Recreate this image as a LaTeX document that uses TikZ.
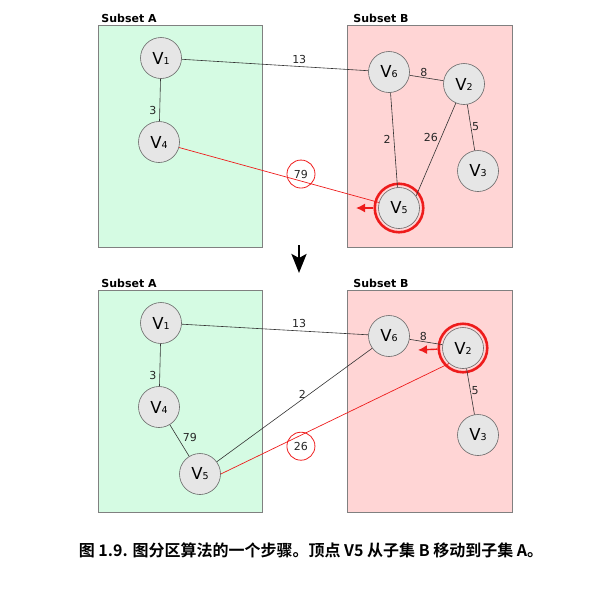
\documentclass[tikz,border=0pt]{standalone}
\usepackage{fontspec}
\setmainfont{DejaVu Sans}
\newfontfamily\cjk{Noto Sans CJK SC Bold}
\usetikzlibrary{arrows.meta}
\definecolor{greenA}{HTML}{D5FBE3}
\definecolor{pinkB}{HTML}{FFD5D5}
\definecolor{vgray}{HTML}{E6E6E6}
\definecolor{edgegray}{HTML}{666666}
\definecolor{boxgray}{HTML}{808080}
\definecolor{hot}{HTML}{EE1C1C}
\newcommand{\vname}[1]{V{\fontsize{9.5}{10}\selectfont #1}}

\begin{document}
\begin{tikzpicture}[x=1pt, y=-1pt, thick,
        main/.style = {draw=edgegray, fill=vgray, circle, minimum size=41pt, inner sep=0pt, line width=0.6pt, font=\fontsize{16.5}{16.5}\selectfont},
        ring/.style = {draw=hot, circle, minimum size=48.5pt, line width=2.6pt},
        lbl/.style = {inner sep=1pt, font=\fontsize{11}{11}\selectfont, text=black!85},
        cost/.style = {draw=hot, circle, minimum size=28pt, inner sep=0pt, line width=0.8pt, font=\fontsize{11}{11}\selectfont, text=black!85},
        link/.style = {draw=black!80, line width=0.6pt},
        cut/.style = {draw=hot, line width=0.7pt},
        move/.style = {draw=hot, line width=1.4pt, -{Latex[length=9pt, width=9pt]}},
        panelA/.style = {fill=greenA, draw=boxgray, line width=0.7pt},
        panelB/.style = {fill=pinkB, draw=boxgray, line width=0.7pt},
        title/.style = {anchor=base west, inner sep=0pt, font=\bfseries\fontsize{11}{11}\selectfont}]
            \useasboundingbox (0,0) rectangle (612,600);
            \draw[panelA] (98,25) rectangle (262,247);
            \draw[panelB] (347,25) rectangle (512,247);
            \draw[panelA] (98,290) rectangle (262,512);
            \draw[panelB] (347,290) rectangle (512,512);
            \node[title] (ta) at (101,22) {Subset A};
            \node[title] (tb) at (353,22) {Subset B};
            \node[title] (ba) at (101,287) {Subset A};
            \node[title] (bb) at (353,287) {Subset B};

            \node[main] (a1) at (161,58) {\vname{1}};
            \node[main] (a4) at (159,142) {\vname{4}};
            \node[main] (a6) at (389,72) {\vname{6}};
            \node[main] (a2) at (464,84) {\vname{2}};
            \node[main] (a3) at (478,171) {\vname{3}};
            \node[main] (a5) at (399,208) {\vname{5}};
            \node[ring] (r5) at (a5) {};
            \coordinate (m5) at (356,208);
            \draw[link] (a1) to node[lbl, pos=0.63, above=2pt] {13} (a6);
            \draw[link] (a1) to node[lbl, pos=0.74, left=2pt] {3} (a4);
            \draw[link] (a6) to node[lbl, pos=0.42, above] {8} (a2);
            \draw[link] (a6) to node[lbl, pos=0.49, left=2pt] {2} (a5);
            \draw[link] (a2) to node[lbl, pos=0.37, left=2pt] {26} (a5.35);
            \draw[link] (a2) to node[lbl, pos=0.49, right=0pt] {5} (a3);
            \draw[cut] (a4) to node[cost, pos=0.61, yshift=7pt] {79} (a5);
            \draw[move] (r5) -- (m5);

            \coordinate (d1) at (299,245);
            \coordinate (d2) at (299,273);
            \draw[line width=2.6pt, -{Stealth[length=19pt, width=15pt, inset=4pt]}] (d1) -- (d2);

            \node[main] (b1) at (161,323) {\vname{1}};
            \node[main] (b4) at (159,407) {\vname{4}};
            \node[main] (b5) at (200,474) {\vname{5}};
            \node[main] (b6) at (389,336) {\vname{6}};
            \node[main] (b2) at (463,348) {\vname{2}};
            \node[main] (b3) at (478,435) {\vname{3}};
            \node[ring] (r2) at (b2) {};
            \coordinate (m2) at (418,350);
            \draw[link] (b1) to node[lbl, pos=0.63, above=2pt] {13} (b6);
            \draw[link] (b1) to node[lbl, pos=0.74, left=2pt] {3} (b4);
            \draw[link] (b4) to node[lbl, pos=0.4, right=4pt] {79} (b5);
            \draw[link] (b5) to node[lbl, pos=0.55, above] {2} (b6);
            \draw[link] (b6) to node[lbl, pos=0.42, above] {8} (b2);
            \draw[link] (b2) to node[lbl, pos=0.49, right=0pt] {5} (b3);
            \draw[cut] (b5.east) to node[cost, pos=0.351, yshift=-11pt] {26} (b2.228);
            \draw[move] (r2) -- (m2);

            \node[font=\cjk\fontsize{16}{16}\selectfont] (cap) at (311,550) {图 1.9. 图分区算法的一个步骤。顶点 V5 从子集 B 移动到子集 A。};
        \end{tikzpicture}
\end{document}
